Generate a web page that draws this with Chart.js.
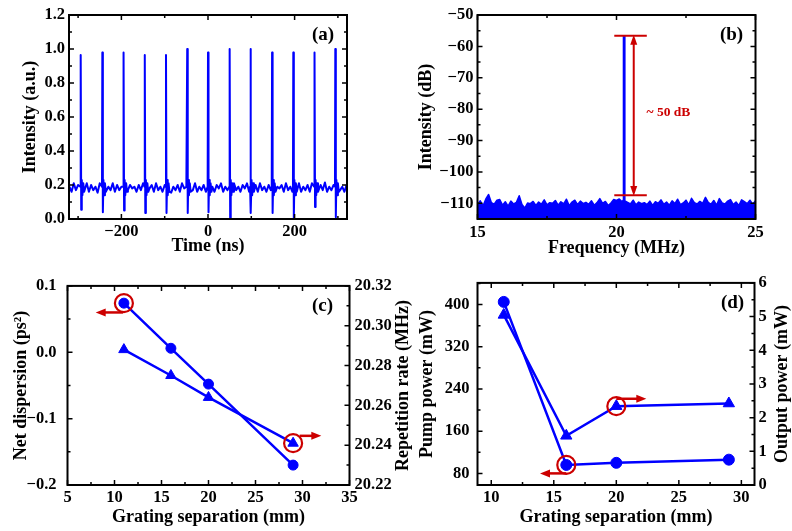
<!DOCTYPE html>
<html>
<head>
<meta charset="utf-8">
<script src="https://cdn.jsdelivr.net/npm/chart.js@4.4.1/dist/chart.umd.min.js"></script>
<style>
  html, body { margin: 0; padding: 0; background: #fff; overflow: hidden; }
  #fig { position: relative; width: 792px; height: 531px; }
  canvas { position: absolute; }
</style>
</head>
<body>
<div id="fig">
  <canvas id="trace" width="396" height="265" style="left:0;top:0"></canvas>
  <canvas id="rf" width="396" height="265" style="left:396px;top:0"></canvas>
  <canvas id="disp" width="420" height="266" style="left:0;top:265px"></canvas>
  <canvas id="power" width="396" height="266" style="left:396px;top:265px"></canvas>
</div>
<script>
const BLUE = '#0000ff';
const RED = '#cc0000';
const SERIF = '"Liberation Serif", "Times New Roman", serif';

// (a) pulse train on the oscilloscope
const pulseTimes = [-294, -244, -195, -146, -97, -48, 0, 50, 98, 148, 197, 246, 294];
const pulsePeaks = [0.965, 0.98, 0.98, 0.965, 0.965, 1.0, 0.98, 1.0, 1.0, 0.98, 0.98, 0.98, 1.0];
const pulseDips = [0.055, 0.04, 0.05, 0.035, 0.035, 0.035, 0.04, 0.0, 0.035, 0.035, 0.005, 0.07, 0.01];
const ringOffsets = [2.5, 4, 6, 8];
const ringLevels = [0.23, 0.14, 0.21, 0.16];
const traceStart = -320;
const traceStep = 5;
const baselineNoise = [
  0.19, 0.16, 0.21, 0.17, 0.20, 0.16, 0.19, 0.17, 0.21, 0.16,
  0.20, 0.17, 0.19, 0.155, 0.21, 0.18, 0.20, 0.16, 0.19, 0.17,
  0.21, 0.16, 0.20, 0.17, 0.19, 0.16, 0.215, 0.17, 0.20, 0.18,
  0.19, 0.16, 0.20, 0.17, 0.21, 0.16, 0.19, 0.18, 0.20, 0.16,
  0.21, 0.17, 0.19, 0.16, 0.20, 0.17, 0.21, 0.155, 0.19, 0.17,
  0.20, 0.16, 0.21, 0.18, 0.19, 0.16, 0.20, 0.17, 0.21, 0.16,
  0.19, 0.17, 0.20, 0.16, 0.215, 0.17, 0.19, 0.16, 0.20, 0.18,
  0.21, 0.16, 0.19, 0.17, 0.20, 0.16, 0.21, 0.17, 0.19, 0.16,
  0.20, 0.18, 0.21, 0.16, 0.19, 0.17, 0.20, 0.16, 0.21, 0.17,
  0.19, 0.16, 0.20, 0.17, 0.21, 0.155, 0.19, 0.18, 0.20, 0.16,
  0.21, 0.17, 0.19, 0.16, 0.20, 0.17, 0.21, 0.16, 0.19, 0.17,
  0.20, 0.16, 0.21, 0.18, 0.19, 0.16, 0.20, 0.17, 0.215, 0.16,
  0.19, 0.17, 0.20, 0.16, 0.21, 0.17, 0.19, 0.16, 0.20
];

// (b) RF spectrum around the fundamental repetition rate
const rfStart = 15;
const rfStep = 0.1;
const rfNoise = [
  -110.5, -109.2, -110.8, -108.6, -107.2, -109.8, -110.3, -109.0, -108.8, -110.6,
  -109.5, -110.9, -109.3, -110.2, -109.7, -107.6, -110.4, -111.5, -109.9, -110.1,
  -109.4, -110.7, -109.6, -110.3, -108.9, -110.5, -109.8, -110.0, -109.1, -110.6,
  -109.5, -110.2, -108.7, -110.8, -109.6, -109.0, -110.4, -109.3, -110.1, -109.7,
  -110.3, -109.2, -110.6, -109.8, -108.5, -110.0, -109.4, -110.7, -109.9, -108.8,
  -109.1, -108.6, -109.5, -108.3, -109.7, -110.2, -109.0, -110.5, -109.6, -110.1,
  -109.8, -110.4, -109.3, -110.7, -109.5, -110.0, -108.9, -110.3, -109.6, -110.6,
  -109.2, -110.1, -108.7, -110.4, -109.9, -109.0, -110.5, -108.4, -109.8, -110.2,
  -109.4, -110.0, -108.1, -109.7, -110.3, -109.1, -110.6, -108.5, -109.9, -110.2,
  -109.3, -108.8, -110.4, -109.6, -110.7, -108.9, -109.5, -110.1, -109.0, -110.3,
  -109.2
];
const rfPeakFreq = [20.24, 20.25, 20.29, 20.30];
const rfPeakLevel = [-109.0, -56.6, -56.6, -109.2];
const rfCarrier = -56.6;
const rfFloor = -107.4;

// (c), (d) cavity parameters against grating separation
const gratingSep = [11, 16, 20, 29];
const netDispersion = [0.074, 0.006, -0.048, -0.170];
const repRate = [20.288, 20.275, 20.264, 20.241];
const pumpPower = [405, 96, 100, 106];
const outputPower = [5.05, 1.46, 2.34, 2.42];

function tracePoints() {
  const pts = [];
  baselineNoise.forEach((v, i) => {
    const t = traceStart + i * traceStep;
    if (pulseTimes.some(p => t >= p - 1 && t <= p + 9)) return;
    pts.push({ x: t, y: v });
  });
  pulseTimes.forEach((t, k) => {
    pts.push({ x: t - 0.8, y: 0.19 }, { x: t, y: pulsePeaks[k] }, { x: t + 1.2, y: pulseDips[k] });
    ringOffsets.forEach((o, j) => pts.push({ x: t + o, y: ringLevels[j] }));
  });
  return pts.sort((p, q) => p.x - q.x);
}

function rfPoints() {
  const pts = rfNoise.map((v, i) => ({ x: rfStart + i * rfStep, y: v }))
    .filter(p => p.x < rfPeakFreq[0] - 0.02 || p.x > rfPeakFreq[3] + 0.02);
  rfPeakFreq.forEach((f, i) => pts.push({ x: f, y: rfPeakLevel[i] }));
  return pts.sort((p, q) => p.x - q.x);
}

const xy = (xs, ys) => xs.map((x, i) => ({ x, y: ys[i] }));

function fmt(v, digits) {
  const s = Math.abs(v).toFixed(digits);
  return (v < -1e-9 ? '\u2212' : '') + s;
}

// linear axis with a fixed thickness so the plot frames line up
function axis({ position, min, max, step, digits = 0, size, title, titlePad = 0, tickPad = 4 }) {
  const horizontal = position === 'bottom';
  return {
    type: 'linear', position, min, max,
    grid: { display: false, drawTicks: false },
    border: { display: false },
    ticks: {
      stepSize: step, includeBounds: false, padding: tickPad, maxRotation: 0, autoSkip: false,
      color: '#000', font: { family: SERIF, size: 16.5, weight: 'bold' },
      callback: v => fmt(v, digits)
    },
    title: {
      display: !!title, text: title, color: '#000',
      font: { family: SERIF, size: 18, weight: 'bold' },
      padding: horizontal ? { top: 0, bottom: titlePad } : { top: titlePad, bottom: 0 }
    },
    afterFit(s) {
      if (horizontal) s.height = size; else s.width = size;
    }
  };
}

// box frame with inward major/minor ticks
const frame = {
  id: 'frame',
  afterDatasetsDraw(chart, args, opts) {
    const { ctx, chartArea: a } = chart;
    const minor = opts.minor || {};
    ctx.save();
    ctx.strokeStyle = '#000';
    ctx.lineWidth = 1.5;
    for (const s of Object.values(chart.scales)) {
      const marks = s.ticks.map(t => [t.value, 5]);
      const m = minor[s.id];
      if (m) {
        for (let i = Math.ceil(s.min / m - 1e-6); i * m <= s.max + 1e-9; i++) {
          const v = i * m;
          if (!s.ticks.some(t => Math.abs(t.value - v) < m / 10)) marks.push([v, 3]);
        }
      }
      const sides = s.isHorizontal() ? ['bottom', 'top'] : (opts.mirror ? ['left', 'right'] : [s.position]);
      ctx.beginPath();
      for (const [v, len] of marks) {
        const p = s.getPixelForValue(v);
        for (const side of sides) {
          if (side === 'bottom') { ctx.moveTo(p, a.bottom); ctx.lineTo(p, a.bottom - len); }
          if (side === 'top') { ctx.moveTo(p, a.top); ctx.lineTo(p, a.top + len); }
          if (side === 'left') { ctx.moveTo(a.left, p); ctx.lineTo(a.left + len, p); }
          if (side === 'right') { ctx.moveTo(a.right, p); ctx.lineTo(a.right - len, p); }
        }
      }
      ctx.stroke();
    }
    ctx.lineWidth = 2;
    ctx.strokeRect(a.left, a.top, a.right - a.left, a.bottom - a.top);
    ctx.restore();
  }
};

function arrowHead(ctx, x, y, ang, len, half) {
  ctx.beginPath();
  ctx.moveTo(x, y);
  ctx.lineTo(x - len * Math.cos(ang) - half * Math.sin(ang), y - len * Math.sin(ang) + half * Math.cos(ang));
  ctx.lineTo(x - len * Math.cos(ang) + half * Math.sin(ang), y - len * Math.sin(ang) - half * Math.cos(ang));
  ctx.closePath();
  ctx.fill();
}

// red guide lines, arrows, notes, panel letter and right-hand axis title
const notes = {
  id: 'notes',
  afterDatasetsDraw(chart, args, opts) {
    const { ctx, chartArea: a, scales } = chart;
    ctx.save();
    ctx.strokeStyle = RED;
    ctx.fillStyle = RED;
    for (const n of opts.items || []) {
      const ys = scales[n.yAxis || 'y'];
      if (n.type === 'text') {
        ctx.font = 'bold 13.5px ' + SERIF;
        ctx.textAlign = 'left';
        ctx.textBaseline = 'middle';
        ctx.fillText(n.text, scales.x.getPixelForValue(n.x), ys.getPixelForValue(n.y));
        continue;
      }
      const x0 = scales.x.getPixelForValue(n.x0), x1 = scales.x.getPixelForValue(n.x1);
      const y0 = ys.getPixelForValue(n.y0), y1 = ys.getPixelForValue(n.y1);
      const ang = Math.atan2(y1 - y0, x1 - x0);
      const len = n.heads ? 10 : 0;
      ctx.lineWidth = n.width || 2;
      ctx.beginPath();
      ctx.moveTo(x0 + (n.heads === 2 ? len * 0.6 * Math.cos(ang) : 0), y0 + (n.heads === 2 ? len * 0.6 * Math.sin(ang) : 0));
      ctx.lineTo(x1 - len * 0.6 * Math.cos(ang), y1 - len * 0.6 * Math.sin(ang));
      ctx.stroke();
      if (n.heads) arrowHead(ctx, x1, y1, ang, len, n.half || 4);
      if (n.heads === 2) arrowHead(ctx, x0, y0, ang + Math.PI, len, n.half || 4);
    }
    ctx.fillStyle = '#000';
    if (opts.label) {
      ctx.font = 'bold 19px ' + SERIF;
      ctx.textAlign = 'center';
      ctx.textBaseline = 'middle';
      ctx.fillText(opts.label.text, a.right + opts.label.dx, a.top + opts.label.dy);
    }
    if (opts.sideTitle) {
      ctx.font = 'bold 18px ' + SERIF;
      ctx.textAlign = 'center';
      ctx.textBaseline = 'middle';
      ctx.translate(a.right + opts.sideTitle.dx, (a.top + a.bottom) / 2);
      ctx.rotate(-Math.PI / 2);
      ctx.fillText(opts.sideTitle.text, 0, 0);
    }
    ctx.restore();
  }
};

function options(padding, scales, plugins) {
  return {
    responsive: false,
    animation: false,
    devicePixelRatio: 1,
    layout: { padding },
    elements: { line: { tension: 0 } },
    scales,
    plugins: Object.assign({ legend: { display: false }, tooltip: { enabled: false } }, plugins)
  };
}

function series(xs, ys, yAxisID, pointStyle, radius) {
  return {
    data: xy(xs, ys), yAxisID, showLine: true,
    borderColor: BLUE, borderWidth: 2.5, backgroundColor: BLUE,
    pointStyle, pointRadius: radius, pointBorderWidth: 1, pointBackgroundColor: BLUE, pointBorderColor: BLUE
  };
}

function ring(x, y, yAxisID) {
  return {
    data: [{ x, y }], yAxisID, showLine: false,
    pointStyle: 'circle', pointRadius: 9, pointBorderWidth: 2.2,
    pointBorderColor: RED, pointBackgroundColor: 'rgba(0,0,0,0)'
  };
}

// (a)
new Chart(document.getElementById('trace'), {
  type: 'scatter',
  data: { datasets: [{
    data: tracePoints(), showLine: true, borderColor: BLUE, borderWidth: 2,
    borderJoinStyle: 'round', pointRadius: 0
  }] },
  options: options({ top: 15, right: 49, left: 0, bottom: 0 }, {
    x: axis({ position: 'bottom', min: -321, max: 321, step: 200, size: 46, title: 'Time (ns)', titlePad: 7.9, tickPad: 3 }),
    y: axis({ position: 'left', min: 0, max: 1.2, step: 0.2, digits: 1, size: 69, title: 'Intensity (a.u.)', titlePad: 19.2, tickPad: 4 })
  }, {
    frame: { mirror: true, minor: { x: 100, y: 0.1 } },
    notes: { label: { text: '(a)', dx: -24, dy: 20 } }
  }),
  plugins: [frame, notes]
});

// (b)
new Chart(document.getElementById('rf'), {
  type: 'scatter',
  data: { datasets: [{
    data: rfPoints(), showLine: true, fill: 'start', borderColor: BLUE, backgroundColor: BLUE,
    borderWidth: 1.5, borderJoinStyle: 'round', pointRadius: 0
  }] },
  options: options({ top: 15, right: 36.5, left: 0, bottom: 0 }, {
    x: axis({ position: 'bottom', min: 15, max: 25, step: 5, size: 46, title: 'Frequency (MHz)', titlePad: 5.9, tickPad: 3.5 }),
    y: axis({ position: 'left', min: -115, max: -50, step: 10, size: 81.5, title: 'Intensity (dB)', titlePad: 19.9, tickPad: 4 })
  }, {
    frame: { mirror: true, minor: { x: 2.5, y: 5 } },
    notes: {
      label: { text: '(b)', dx: -24, dy: 20 },
      items: [
        { x0: 19.92, x1: 21.09, y0: rfCarrier, y1: rfCarrier, width: 2 },
        { x0: 19.92, x1: 21.09, y0: rfFloor, y1: rfFloor, width: 2 },
        { x0: 20.62, x1: 20.62, y0: rfFloor - 0.3, y1: rfCarrier + 0.3, width: 2, heads: 2, half: 3.5 },
        { type: 'text', text: '~ 50 dB', x: 21.08, y: -81 }
      ]
    }
  }),
  plugins: [frame, notes]
});

// (c)
new Chart(document.getElementById('disp'), {
  type: 'scatter',
  data: { datasets: [
    ring(gratingSep[0], netDispersion[0], 'y'),
    ring(gratingSep[3], repRate[3], 'y2'),
    series(gratingSep, netDispersion, 'y', 'circle', 5),
    series(gratingSep, repRate, 'y2', 'triangle', 6)
  ] },
  options: options({ top: 17, right: 0, left: 0, bottom: 0 }, {
    x: axis({ position: 'bottom', min: 5, max: 35, step: 5, size: 46, title: 'Grating separation (mm)', titlePad: 2.7, tickPad: 3 }),
    y: axis({ position: 'left', min: -0.2, max: 0.1, step: 0.1, digits: 1, size: 67.5, title: 'Net dispersion (ps\u00b2)', titlePad: 10.9, tickPad: 11 }),
    y2: axis({ position: 'right', min: 20.22, max: 20.32, step: 0.02, digits: 2, size: 70.5, tickPad: 5 })
  }, {
    frame: { minor: { x: 2.5, y: 0.05, y2: 0.01 } },
    notes: {
      label: { text: '(c)', dx: -27, dy: 19.7 },
      sideTitle: { text: 'Repetition rate (MHz)', dx: 54 },
      items: [
        { x0: 10.9, x1: 8.0, y0: 0.060, y1: 0.060, width: 2.5, heads: 1 },
        { x0: 29.7, x1: 32.0, y0: 20.2447, y1: 20.2447, yAxis: 'y2', width: 2.5, heads: 1 }
      ]
    }
  }),
  plugins: [frame, notes]
});

// (d)
new Chart(document.getElementById('power'), {
  type: 'scatter',
  data: { datasets: [
    ring(gratingSep[1], pumpPower[1], 'y'),
    ring(gratingSep[2], outputPower[2], 'y2'),
    series(gratingSep, pumpPower, 'y', 'circle', 5.5),
    series(gratingSep, outputPower, 'y2', 'triangle', 6.5)
  ] },
  options: options({ top: 16, right: 0, left: 0, bottom: 0 }, {
    x: axis({ position: 'bottom', min: 8.9, max: 31.05, step: 5, size: 46, title: 'Grating separation (mm)', titlePad: 2.7, tickPad: 3 }),
    y: axis({ position: 'left', min: 58, max: 441, step: 80, size: 81.5, title: 'Pump power (mW)', titlePad: 20.9, tickPad: 8 }),
    y2: axis({ position: 'right', min: 0, max: 6, step: 1, size: 37.5, tickPad: 4 })
  }, {
    frame: { minor: { x: 2.5, y: 40, y2: 0.5 } },
    notes: {
      label: { text: '(d)', dx: -22, dy: 20 },
      sideTitle: { text: 'Output power (mW)', dx: 28 },
      items: [
        { x0: 16, x1: 13.9, y0: 80, y1: 80, width: 2.5, heads: 1 },
        { x0: 20, x1: 22.4, y0: 2.56, y1: 2.56, yAxis: 'y2', width: 2.5, heads: 1 }
      ]
    }
  }),
  plugins: [frame, notes]
});
</script>
</body>
</html>
